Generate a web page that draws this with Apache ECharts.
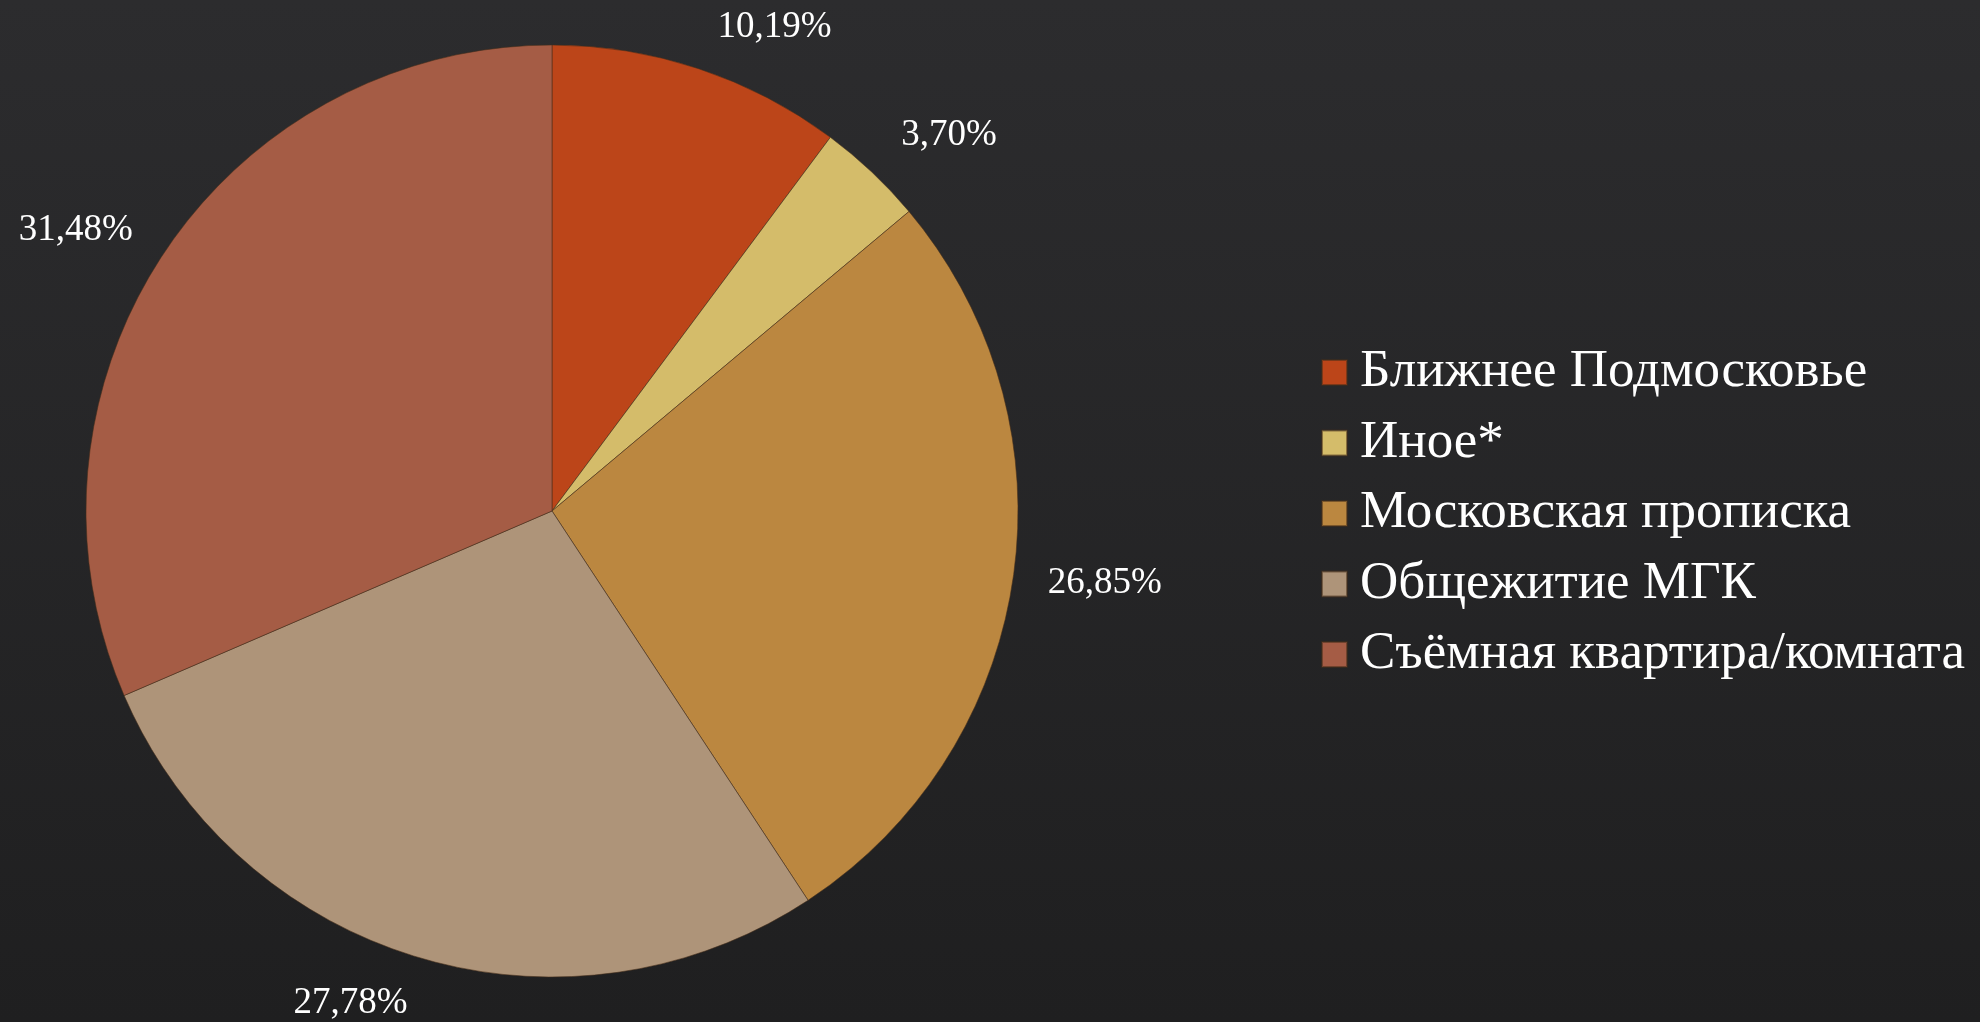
<!DOCTYPE html>
<html>
<head>
<meta charset="utf-8">
<script src="https://cdn.jsdelivr.net/npm/echarts@6/dist/echarts.min.js"></script>
<style>
html,body{margin:0;padding:0;width:1980px;height:1022px;overflow:hidden;background:#262628;}
#chart{width:1980px;height:1022px;}
</style>
</head>
<body>
<div id="chart"></div>
<script>
const categories = ['Ближнее Подмосковье', 'Иное*', 'Московская прописка', 'Общежитие МГК', 'Съёмная квартира/комната'];
const values = [10.19, 3.70, 26.85, 27.78, 31.48];
const colors = ['#BC4519', '#D4BC6A', '#BB8740', '#AE9479', '#A55C45'];
const lineLen = [44, 50, 30, 48, 44];
const labelDist = [5, -5, 5, -3, -7];

const chart = echarts.init(document.getElementById('chart'));
const data = categories.map((name, i) => ({
  name: name,
  value: values[i],
  itemStyle: { color: colors[i] },
  label: { distanceToLabelLine: labelDist[i] },
  labelLine: { show: false, length: lineLen[i], length2: 0 }
}));

chart.setOption({
  backgroundColor: {
    type: 'linear', x: 0, y: 0, x2: 0, y2: 1,
    colorStops: [{ offset: 0, color: '#2c2c2e' }, { offset: 1, color: '#1f1f20' }]
  },
  legend: {
    orient: 'vertical',
    left: 1316,
    top: 341,
    itemWidth: 25,
    itemHeight: 25,
    itemGap: 17.5,
    icon: 'rect',
    textStyle: { color: '#ffffff', fontFamily: 'Liberation Serif', fontSize: 53, lineHeight: 53, padding: [0, 0, 0, 8] },
    data: categories
  },
  series: [{
    type: 'pie',
    center: [552, 511],
    radius: [0, 466],
    startAngle: 90,
    clockwise: true,
    avoidLabelOverlap: false,
    animation: false,
    itemStyle: { borderColor: 'rgba(70,45,25,0.55)', borderWidth: 1 },
    label: {
      show: true,
      position: 'outside',
      color: '#ffffff',
      fontFamily: 'Liberation Serif',
      fontSize: 37,
      formatter: p => p.value.toFixed(2).replace('.', ',') + '%'
    },
    labelLine: { show: false },
    emphasis: { disabled: true },
    data: data
  }]
});
</script>
</body>
</html>
